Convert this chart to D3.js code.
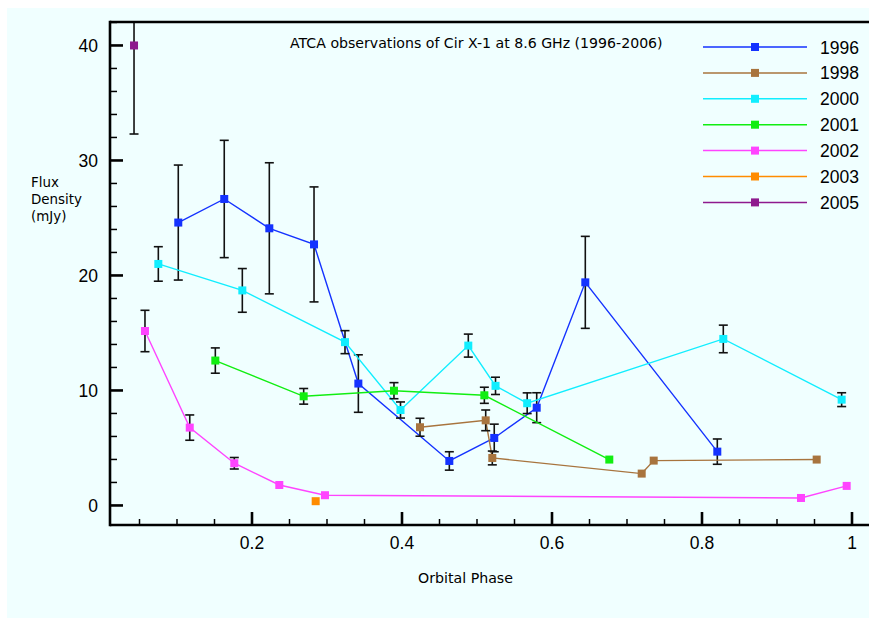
<!DOCTYPE html>
<html><head><meta charset="utf-8">
<script src="https://cdn.jsdelivr.net/npm/d3@7"></script>
<style>body{margin:0;background:#fff}svg{display:block;font-family:"Liberation Sans",Arial,Helvetica,sans-serif}</style>
</head><body>
<script>
// ---- data ----
const years = ["1996","1998","2000","2001","2002","2003","2005"];
const colors = ["#1432ff","#a8743e","#11eeff","#11ee11","#ff44ff","#ff8c00","#8e1a8e"];
const phase1996 = [0.1017,0.163,0.2231,0.2827,0.3418,0.4631,0.523,0.5796,0.6444,0.8204];
const flux1996  = [24.6,26.65,24.1,22.7,10.6,3.87,5.87,8.5,19.4,4.68];
const err1996   = [5.0,5.1,5.7,5.0,2.5,0.8,1.2,1.3,4.0,1.1];
const phase1998 = [0.424,0.5116,0.5204,0.7196,0.7356,0.9529];
const flux1998  = [6.8,7.4,4.13,2.77,3.9,3.99];
const err1998   = [0.78,0.9,0.6,0,0,0];
const phase2000 = [0.0751,0.1871,0.324,0.398,0.4884,0.5247,0.5669,0.8284,0.9862];
const flux2000  = [21.0,18.7,14.2,8.3,13.9,10.4,8.89,14.48,9.2];
const err2000   = [1.5,1.9,1.0,0.7,1.0,0.75,0.9,1.2,0.6];
const phase2001 = [0.1511,0.2689,0.3893,0.5098,0.6764];
const flux2001  = [12.6,9.49,9.98,9.58,3.99];
const err2001   = [1.1,0.68,0.7,0.7,0];
const phase2002 = [0.0573,0.117,0.1764,0.2364,0.2973,0.932,0.9929];
const flux2002  = [15.17,6.77,3.67,1.78,0.89,0.65,1.7];
const err2002   = [1.8,1.1,0.5,0,0,0,0];
const phase2003 = [0.2849];
const flux2003  = [0.37];
const err2003   = [0];
const phase2005 = [0.0427];
const flux2005  = [40.0];
const err2005   = [7.7];
const xMajorTicks = [0.2,0.4,0.6,0.8,1];
const yMajorTicks = [0,10,20,30,40];
const titleText = "ATCA observations of Cir X-1 at 8.6 GHz (1996-2006)";
const xLabel = "Orbital Phase";
const yLabelLines = ["Flux","Density","(mJy)"];

const seriesPhase = [phase1996,phase1998,phase2000,phase2001,phase2002,phase2003,phase2005];
const seriesFlux = [flux1996,flux1998,flux2000,flux2001,flux2002,flux2003,flux2005];
const seriesErr = [err1996,err1998,err2000,err2001,err2002,err2003,err2005];

// ---- layout ----
const W=869,H=619;
const L=110,T=22,R=869,B=525;
const svg=d3.select("body").append("svg").attr("width",W).attr("height",H);
svg.append("rect").attr("x",7).attr("y",8).attr("width",W-7).attr("height",H-9).attr("fill","#f0ffff");

const x=d3.scaleLinear().domain([0.010667,1.022667]).range([L,R]);
const y=d3.scaleLinear().domain([-1.7,42.04]).range([B,T]);

svg.append("clipPath").attr("id","clip").append("rect").attr("x",L).attr("y",T).attr("width",R-L).attr("height",B-T);
const plot=svg.append("g").attr("clip-path","url(#clip)");

// series
seriesPhase.forEach((ph,i)=>{
  const pts=ph.map((p,j)=>({p,f:seriesFlux[i][j],e:seriesErr[i][j]}));
  const g=plot.append("g");
  g.append("path").datum(pts).attr("fill","none").attr("stroke",colors[i]).attr("stroke-width",1.4)
    .attr("d",d3.line().x(d=>x(d.p)).y(d=>y(d.f)));
  const eb=pts.filter(d=>d.e>0);
  g.selectAll(".ev").data(eb).join("line").attr("class","ev").attr("stroke","#111").attr("stroke-width",1.6)
    .attr("x1",d=>x(d.p)).attr("x2",d=>x(d.p)).attr("y1",d=>y(d.f+d.e)).attr("y2",d=>y(d.f-d.e));
  g.selectAll(".capT").data(eb).join("line").attr("class","capT").attr("stroke","#111").attr("stroke-width",1.6)
    .attr("x1",d=>x(d.p)-4.5).attr("x2",d=>x(d.p)+4.5)
    .attr("y1",d=>y(d.f+d.e)).attr("y2",d=>y(d.f+d.e));
  g.selectAll(".capB").data(eb).join("line").attr("class","capB").attr("stroke","#111").attr("stroke-width",1.6)
    .attr("x1",d=>x(d.p)-4.5).attr("x2",d=>x(d.p)+4.5)
    .attr("y1",d=>y(d.f-d.e)).attr("y2",d=>y(d.f-d.e));
  g.selectAll(".mk").data(pts).join("rect").attr("class","mk").attr("fill",colors[i])
    .attr("x",d=>x(d.p)-4).attr("y",d=>y(d.f)-4).attr("width",8).attr("height",8);
});

// axes
const ax=svg.append("g").attr("stroke","#000");
ax.append("line").attr("x1",L).attr("x2",R).attr("y1",T).attr("y2",T).attr("stroke-width",2.6);
ax.append("line").attr("x1",L).attr("x2",L).attr("y1",T-1.3).attr("y2",B+1.3).attr("stroke-width",2.6);
ax.append("line").attr("x1",L).attr("x2",R).attr("y1",B).attr("y2",B).attr("stroke-width",2.6);

const yMinor=d3.range(0,43,2).filter(v=>v%10!==0);
ax.selectAll(".ymin").data(yMinor).join("line").attr("class","ymin").attr("x1",L).attr("x2",L+7)
  .attr("y1",d=>y(d)).attr("y2",d=>y(d)).attr("stroke-width",1.5);
ax.selectAll(".ymaj").data(yMajorTicks).join("line").attr("class","ymaj").attr("x1",L).attr("x2",L+13)
  .attr("y1",d=>y(d)).attr("y2",d=>y(d)).attr("stroke-width",2.6);
const xMinor=d3.range(1,21).map(k=>k*0.05).filter((v,k)=>(k+1)%4!==0);
ax.selectAll(".xmin").data(xMinor).join("line").attr("class","xmin").attr("y1",B).attr("y2",B-6)
  .attr("x1",d=>x(d)).attr("x2",d=>x(d)).attr("stroke-width",1.5);
ax.selectAll(".xmaj").data(xMajorTicks).join("line").attr("class","xmaj").attr("y1",B).attr("y2",B-13)
  .attr("x1",d=>x(d)).attr("x2",d=>x(d)).attr("stroke-width",2.6);

svg.selectAll(".yl").data(yMajorTicks).join("text").attr("class","yl").attr("x",98).attr("y",d=>y(d)+6.5)
  .attr("text-anchor","end").attr("font-size",17.5).attr("fill","#000").text(d=>d);
svg.selectAll(".xl").data(xMajorTicks).join("text").attr("class","xl").attr("x",d=>x(d)).attr("y",549)
  .attr("text-anchor","middle").attr("font-size",17.5).attr("fill","#000").text(d=>d);

// small labels: wider face, sized to match reference widths
function fit(sel, target){
  sel.attr("font-size",13);
  const w=sel.node().getComputedTextLength();
  sel.attr("font-size",13*target/w);
  return sel;
}
const small='"DejaVu Sans","Liberation Sans",sans-serif';
fit(svg.append("text").attr("x",290).attr("y",48).attr("font-family",small).attr("fill","#000").text(titleText),373);
fit(svg.append("text").attr("x",465.5).attr("y",583).attr("text-anchor","middle").attr("font-family",small).attr("fill","#000").text(xLabel),95);
const densW=51;
const ylabs=svg.selectAll(".ylab").data(yLabelLines).join("text").attr("class","ylab").attr("x",31).attr("y",(d,i)=>187+i*17)
  .attr("font-family",small).attr("fill","#000").text(d=>d);
const dn=ylabs.filter(d=>d==="Density");
dn.attr("font-size",13);
const fs=13*densW/dn.node().getComputedTextLength();
ylabs.attr("font-size",fs);

// legend
const lg=svg.append("g");
years.forEach((yr,i)=>{
  const yy=47+i*25.9;
  lg.append("line").attr("x1",703).attr("x2",807).attr("y1",yy).attr("y2",yy).attr("stroke",colors[i]).attr("stroke-width",1.5);
  lg.append("rect").attr("x",751).attr("y",yy-4).attr("width",8).attr("height",8).attr("fill",colors[i]);
  lg.append("text").attr("x",820).attr("y",yy+6.5).attr("font-size",17.5).attr("fill","#000").text(yr);
});
</script>
</body></html>
